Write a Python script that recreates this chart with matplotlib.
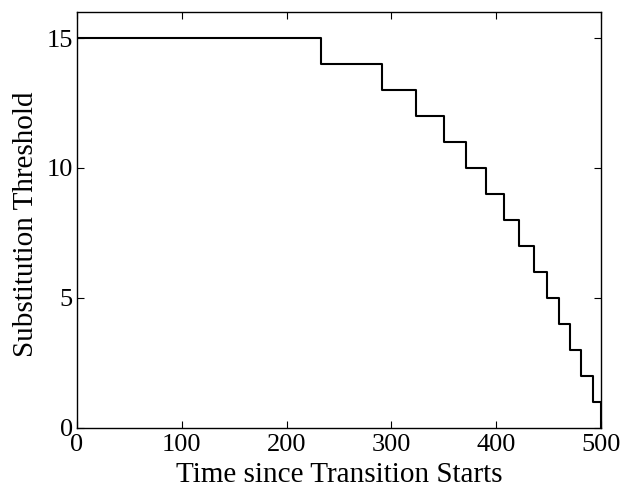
import matplotlib
matplotlib.use("Agg")
import matplotlib.pyplot as plt

# Data
change_times = [0, 233, 291, 323, 350, 371, 390, 407, 422, 436, 448, 460, 470, 481, 492, 500]
thresholds = [15, 14, 13, 12, 11, 10, 9, 8, 7, 6, 5, 4, 3, 2, 1, 0]
x_ticks = [0, 100, 200, 300, 400, 500]
y_ticks = [0, 5, 10, 15]

plt.rcParams['font.family'] = ['Liberation Serif', 'DejaVu Serif']

fig = plt.figure(figsize=(6.25, 4.98), dpi=100)
ax = fig.add_axes([0.1232, 0.1406, 0.8384, 0.8353])
ax.plot(change_times, thresholds, drawstyle='steps-post', color='black', linewidth=1.5)
ax.set_xlim(0, 500)
ax.set_ylim(0, 16)
ax.set_xticks(x_ticks)
ax.set_yticks(y_ticks)
ax.tick_params(direction='in', top=True, right=True, length=5, labelsize=19, width=0.8)
ax.tick_params(axis='x', pad=4)
ax.tick_params(axis='y', pad=3)
ax.set_xlabel('Time since Transition Starts', fontsize=21)
ax.set_ylabel('Substitution Threshold', fontsize=21)
ax.xaxis.set_label_coords(0.5, -0.082)
ax.yaxis.set_label_coords(-0.073, 0.49)
for s in ax.spines.values():
    s.set_linewidth(1.0)
fig.savefig('out.png', dpi=100)
